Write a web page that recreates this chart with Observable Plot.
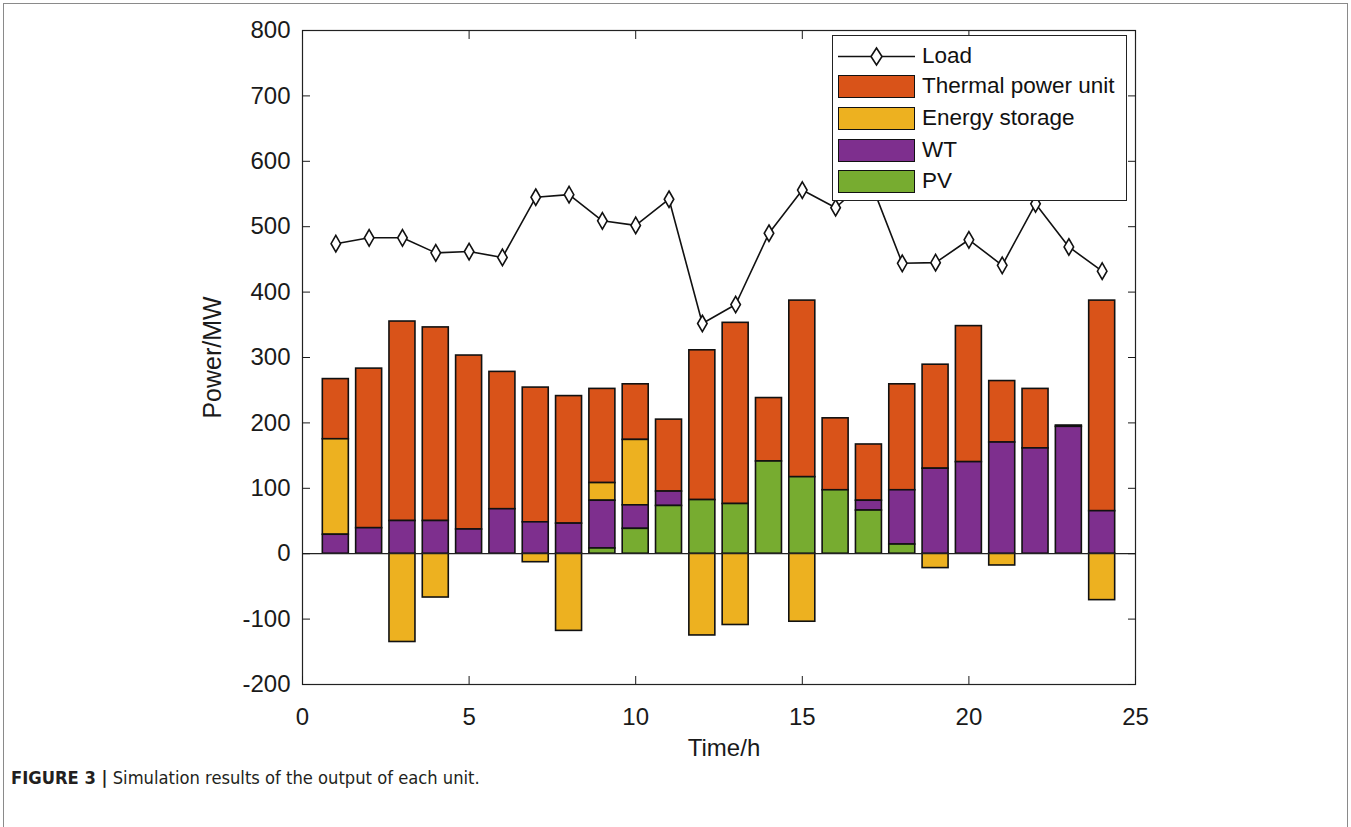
<!DOCTYPE html>
<html>
<head>
<meta charset="utf-8">
<script src="https://cdn.jsdelivr.net/npm/d3@7"></script>
<script src="https://cdn.jsdelivr.net/npm/@observablehq/plot@0.6"></script>
<style>
  body { margin: 0; background: #fff; }
  #wrap { position: relative; width: 1351px; height: 827px; overflow: hidden; background: #fff;
          font-family: "Liberation Sans", Arial, Helvetica, sans-serif; color: #1a1a1a; }
  #border { position: absolute; left: 3px; top: 3px; width: 1345px; height: 840px; border: 1px solid #8a8a8a; box-sizing: border-box; }
  #chart { position: absolute; left: 0; top: 0; }
  #legend { position: absolute; left: 832px; top: 35px; width: 295px; height: 166px; box-sizing: border-box;
            border: 1.2px solid #222; background: #fff; }
  .row { position: absolute; left: 0; height: 24px; width: 100%; }
  .sw { position: absolute; left: 5px; top: 0; width: 77px; height: 23px; box-sizing: border-box; border: 1.6px solid #111; }
  .lab { position: absolute; left: 89px; top: 50%; transform: translateY(-52%); font-size: 22.5px; white-space: nowrap; color: #111; }
  #caption { position: absolute; left: 11px; top: 767px; font-family: "Liberation Sans Narrow", "DejaVu Sans Condensed", "Liberation Sans", sans-serif;
             font-size: 18.2px; color: #231f20; white-space: nowrap; }
  #caption b { font-weight: bold; }
</style>
</head>
<body>
<div id="wrap">
  <div id="border"></div>
  <div id="chart"></div>
  <div id="legend"></div>
  <div id="caption"><b>FIGURE 3 |</b> Simulation results of the output of each unit.</div>
</div>
<script>
// ---- data ----
const hours   = [1,2,3,4,5,6,7,8,9,10,11,12,13,14,15,16,17,18,19,20,21,22,23,24];
const load    = [474,483,483,460,462,453,545,549,509,502,542,352,381,490,556,529,575,444,445,480,441,535,469,432];
const thermal = [92,244,305,296,266,210,206,195,144,85,110,229,277,97,270,110,86,162,159,208,94,91,2,322];
const storage = [146,0,-135,-67,0,0,-13,-118,27,100,0,-125,-109,0,-104,0,0,0,-22,0,-18,0,0,-71];
const wt      = [29,39,50,50,37,68,48,46,73,36,22,0,0,0,0,0,15,83,130,140,170,161,194,65];
const pv      = [0,0,0,0,0,0,0,0,8,38,73,82,76,141,117,97,66,14,0,0,0,0,0,0];

const seriesNames  = ["Thermal power unit", "Energy storage", "WT", "PV"];
const seriesColors = ["#D95319", "#EDB120", "#7E2F8E", "#77AC30"];
const stackOrder   = ["PV", "WT", "Energy storage", "Thermal power unit"];
const xTicks = [0,5,10,15,20,25];
const yTicks = [-200,-100,0,100,200,300,400,500,600,700,800];
const xLabel = "Time/h";
const yLabel = "Power/MW";

// ---- tables built from the arrays ----
const seriesValues = {"Thermal power unit": thermal, "Energy storage": storage, "WT": wt, "PV": pv};
const bars = [];
for (const name of seriesNames) {
  hours.forEach((t, i) => {
    const v = seriesValues[name][i];
    if (v !== 0) bars.push({t, series: name, value: v});
  });
}
const loadData = hours.map((t, i) => ({t, load: load[i]}));
const halfW = 0.39;
const plain = d => String(d);

const chart = Plot.plot({
  width: 1351,
  height: 780,
  marginLeft: 302,
  marginRight: 216,
  marginTop: 30,
  marginBottom: 96,
  style: {fontFamily: "'Liberation Sans', Arial, Helvetica, sans-serif", fontSize: "24px", color: "#1a1a1a", background: "transparent"},
  x: {domain: [0, 25]},
  y: {domain: [-200, 800]},
  color: {domain: seriesNames, range: seriesColors},
  marks: [
    Plot.rectY(bars, Plot.stackY({
      x1: d => d.t - halfW,
      x2: d => d.t + halfW,
      y: "value",
      fill: "series",
      order: stackOrder,
      stroke: "#111",
      strokeWidth: 1.6
    })),
    Plot.ruleY([0], {stroke: "#222", strokeWidth: 1.2}),
    Plot.line(loadData, {x: "t", y: "load", stroke: "#111", strokeWidth: 1.6}),
    Plot.dot(loadData, {x: "t", y: "load", symbol: "diamond", r: 5, fill: "white", stroke: "#111", strokeWidth: 1.6}),
    Plot.frame({stroke: "#222", strokeWidth: 1.2}),
    Plot.axisY({ticks: yTicks, anchor: "left", tickSize: -8, tickPadding: 20, tickFormat: plain, label: null}),
    Plot.axisY({ticks: yTicks, anchor: "right", tickSize: -8, tickFormat: () => "", label: null}),
    Plot.axisX({ticks: xTicks, anchor: "bottom", tickSize: -8, tickPadding: 31, tickFormat: plain, label: null}),
    Plot.axisX({ticks: xTicks, anchor: "top", tickSize: -8, tickFormat: () => "", label: null}),
    Plot.text([yLabel], {frameAnchor: "left", textAnchor: "middle", dx: -90, rotate: -90, fontSize: 25, lineAnchor: "middle", fill: "#1a1a1a"}),
    Plot.text([xLabel], {frameAnchor: "bottom", textAnchor: "middle", dx: 5, dy: 64, fontSize: 24, lineAnchor: "middle", fill: "#1a1a1a"})
  ]
});
document.getElementById("chart").appendChild(chart);

// ---- legend (HTML overlay inside the axes box) ----
const legend = document.getElementById("legend");
const rowTops = [9, 39, 71, 103, 134]; // row tops relative to the legend box
{
  const row = document.createElement("div");
  row.className = "row";
  row.style.top = rowTops[0] + "px";
  row.innerHTML = `<svg width="80" height="24" style="position:absolute;left:5px;top:0">
      <line x1="0" y1="11.5" x2="77" y2="11.5" stroke="#111" stroke-width="1.6"/>
      <path d="M38.5,3 L44,11.5 L38.5,20 L33,11.5 Z" fill="white" stroke="#111" stroke-width="1.6"/>
    </svg><span class="lab">Load</span>`;
  legend.appendChild(row);
}
seriesNames.forEach((name, i) => {
  const row = document.createElement("div");
  row.className = "row";
  row.style.top = rowTops[i + 1] + "px";
  row.innerHTML = `<div class="sw" style="background:${seriesColors[i]}"></div><span class="lab">${name}</span>`;
  legend.appendChild(row);
});
</script>
</body>
</html>
